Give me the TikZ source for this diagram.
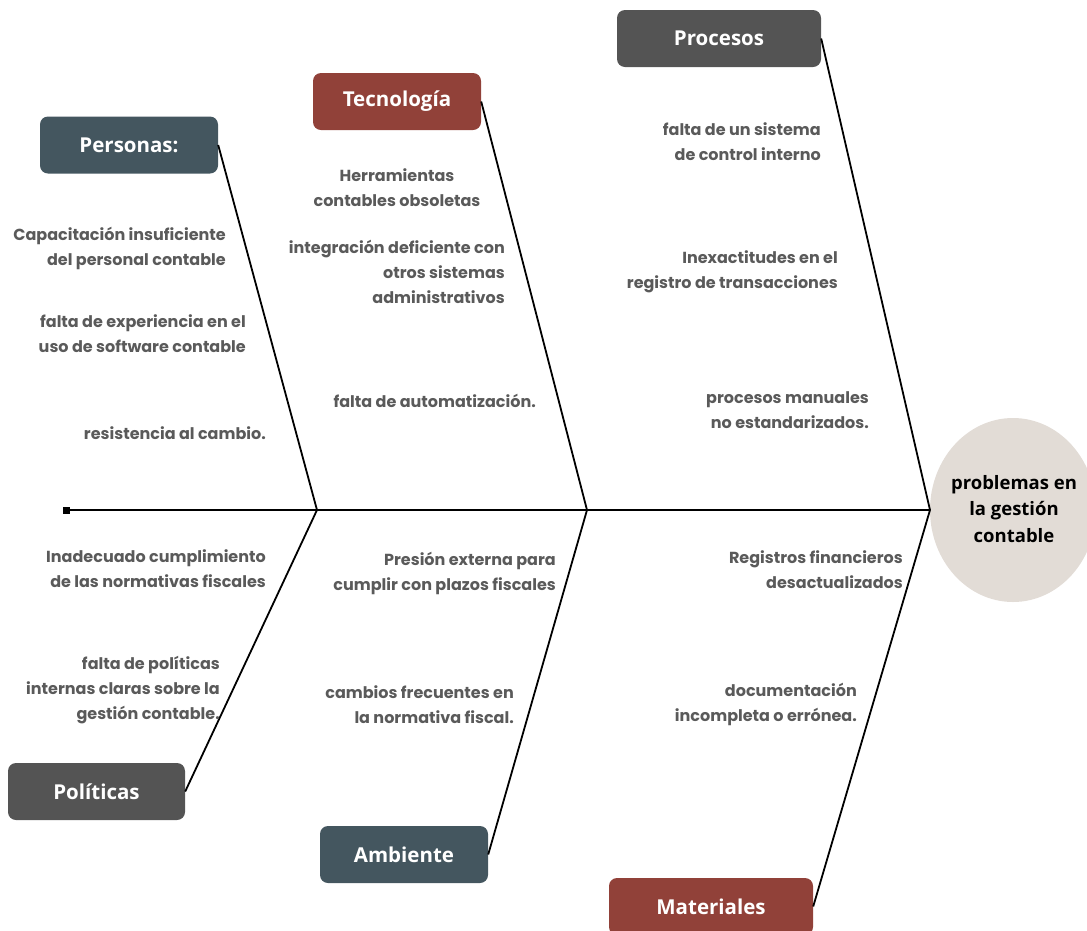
\documentclass[tikz,border=0pt]{standalone}
\usepackage{fontspec}
\newfontfamily\bodyf{Poppins}
\newfontfamily\titf{Open Sans}
\usetikzlibrary{shapes.geometric}
\definecolor{slate}{HTML}{44565F}
\definecolor{brick}{HTML}{914139}
\definecolor{greybox}{HTML}{545454}
\definecolor{beige}{HTML}{E2DCD6}
\definecolor{txt}{HTML}{5A5A5A}
\tikzset{
  catbox/.style={rounded corners=8pt, minimum height=57pt, text=white, font=\titf\bfseries\fontsize{20.5}{24}\selectfont, inner sep=0pt},
  cause/.style={text=txt, font=\bodyf\bfseries\fontsize{16}{25}\selectfont, inner sep=0pt},
  bone/.style={line width=1.8pt, black},
}
\begin{document}
\begin{tikzpicture}[x=1pt,y=-1pt]
\useasboundingbox (0,0) rectangle (1087,930);
% head
\node[ellipse, fill=beige, minimum width=166pt, minimum height=184pt, inner sep=0pt] (head) at (1013,510) {};
\node[font=\titf\bfseries\fontsize{18.5}{26.5}\selectfont, align=center, text=black] (headtxt) at (1014,509) {problemas en\\la gestión\\contable};
% spine
\node[fill=black, minimum size=7pt, inner sep=0pt] (tail) at (66,510) {};
\coordinate (hp) at (930,510);
\draw[line width=2.4pt] (tail.center) -- (hp);
\coordinate (j1) at (317,510);
\coordinate (j2) at (587,510);
% boxes
\node[catbox, fill=slate, minimum width=178pt] (personas) at (129,145) {Personas:};
\node[catbox, fill=brick, minimum width=168pt] (tecno) at (397,101.5) {Tecnología};
\node[catbox, fill=greybox, minimum width=204pt] (procesos) at (719,38.5) {Procesos};
\node[catbox, fill=greybox, minimum width=177pt] (politicas) at (96.5,791.5) {Políticas};
\node[catbox, fill=slate, minimum width=168pt] (ambiente) at (404,854.5) {Ambiente};
\node[catbox, fill=brick, minimum width=204pt] (materiales) at (711,906.5) {Materiales};
% bones
\draw[bone] (personas.east) -- (j1);
\draw[bone] (tecno.east) -- (j2);
\draw[bone] (procesos.east) -- (hp);
\draw[bone] (politicas.east) -- (j1);
\draw[bone] (ambiente.east) -- (j2);
\draw[bone] (materiales.east) -- (hp);
% causes: Personas
\node[cause, align=right, anchor=east] (p1) at (226,248.5) {Capacitación insuficiente\\del personal contable};
\node[cause, align=right, anchor=east] (p2) at (246,334) {falta de experiencia en el\\uso de software contable};
\node[cause, align=right, anchor=east] (p3) at (266,433) {resistencia al cambio.};
% Tecnologia
\node[cause, align=center] (t1) at (397,188) {Herramientas\\contables obsoletas};
\node[cause, align=right, anchor=east] (t2) at (505,271.5) {integración deficiente con\\otros sistemas\\administrativos};
\node[cause, align=right, anchor=east] (t3) at (536,401) {falta de automatización.};
% Procesos
\node[cause, align=right, anchor=east] (r1) at (821,141.5) {falta de un sistema\\de control interno};
\node[cause, align=right, anchor=east] (r2) at (838,272) {Inexactitudes en el\\registro de transacciones};
\node[cause, align=right, anchor=east] (r3) at (869,410.5) {procesos manuales\\no estandarizados.};
% Politicas
\node[cause, align=right, anchor=east] (l1) at (266,569) {Inadecuado cumplimiento\\de las normativas fiscales};
\node[cause, align=right, anchor=east] (l2) at (220,690.5) {falta de políticas\\internas claras sobre la\\gestión contable.};
% Ambiente
\node[cause, align=right, anchor=east] (a1) at (556,573.5) {Presión externa para\\cumplir con plazos fiscales};
\node[cause, align=right, anchor=east] (a2) at (514,704.5) {cambios frecuentes en\\la normativa fiscal.};
% Materiales
\node[cause, align=right, anchor=east] (m1) at (903,569.5) {Registros financieros\\desactualizados};
\node[cause, align=right, anchor=east] (m2) at (857,704.5) {documentación\\incompleta o errónea.};
\end{tikzpicture}
\end{document}
